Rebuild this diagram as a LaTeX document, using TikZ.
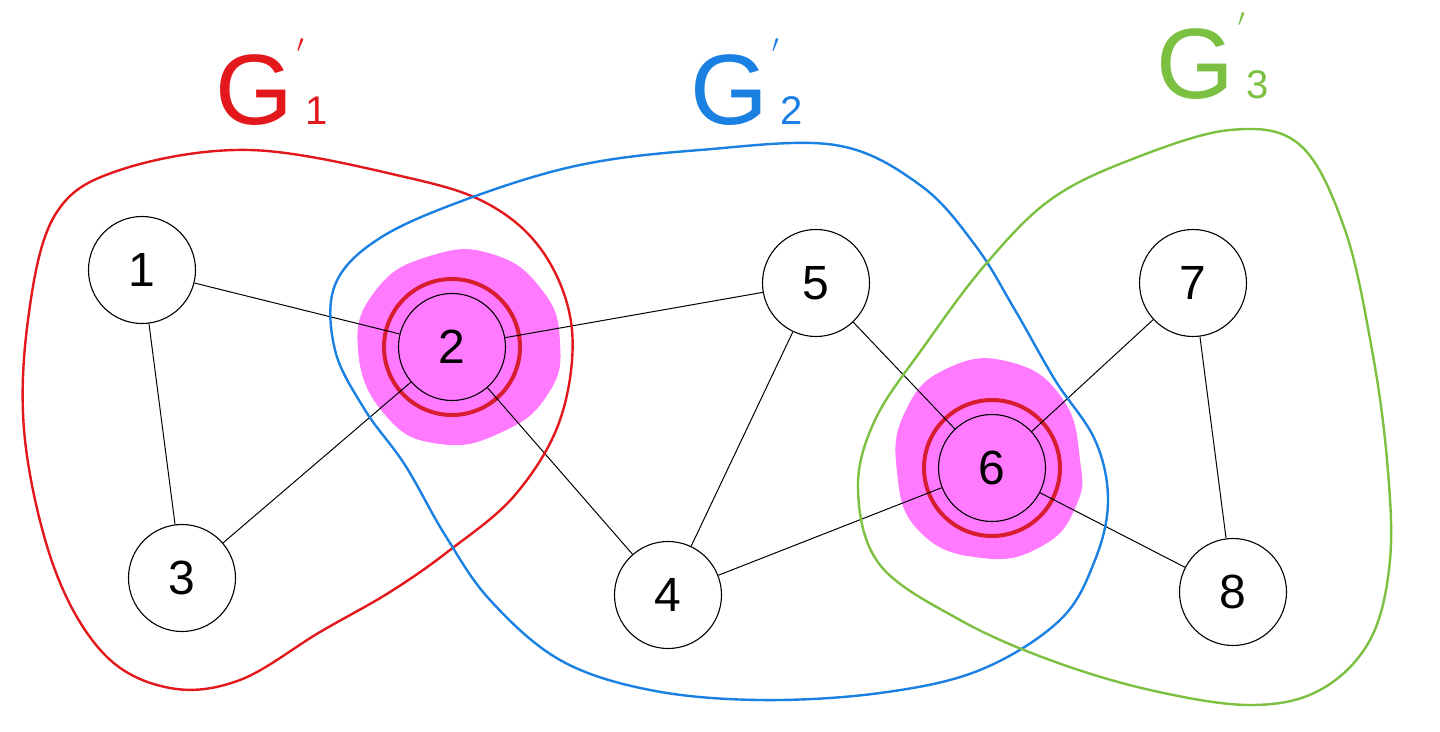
\documentclass[tikz,border=0pt]{standalone}
\usepackage{fontspec}
\setmainfont{Liberation Sans}
\usepackage{tikz}
\usetikzlibrary{arrows.meta}
\definecolor{gred}{RGB}{226,24,28}
\definecolor{gblue}{RGB}{26,128,226}
\definecolor{ggreen}{RGB}{124,192,66}
\definecolor{hpink}{RGB}{255,122,255}
\definecolor{hring}{RGB}{214,30,48}
\newcommand{\gname}[1]{G\kern4pt\raisebox{72pt}{\fontsize{30}{30}\selectfont$\prime$}\kern2pt{\fontsize{40}{40}\selectfont #1}}

\begin{document}
\begin{tikzpicture}[x=1pt,y=-1pt,
    vert/.style={draw=black, circle, line width=1.1pt, fill=white, minimum size=107pt, inner sep=0pt, font=\fontsize{48}{48}\selectfont},
    cut/.style={vert, fill=none},
    ring/.style={draw=hring, line width=4pt},
    glabel/.style={anchor=base west, inner sep=0pt, font=\fontsize{100}{100}\selectfont}]
    \useasboundingbox (0,0) rectangle (1440,731);
    % highlighted cut vertices
    \fill[hpink] plot[smooth cycle, tension=0.8] coordinates {(560,342) (542,290) (492,254) (430,256) (376,290) (358,350) (386,416) (440,444) (502,432) (548,394)};
    \fill[hpink] plot[smooth cycle, tension=0.8] coordinates {(1080,460) (1062,398) (1010,362) (948,368) (906,410) (897,472) (920,532) (982,558) (1042,546) (1076,506)};
    % vertices
    \node[vert] (n1) at (142,270) {1};
    \node[cut] (n2) at (452,347) {2};
    \node[vert] (n3) at (182,578) {3};
    \node[vert] (n4) at (668,595) {4};
    \node[vert] (n5) at (816,283) {5};
    \node[cut] (n6) at (992,468) {6};
    \node[vert] (n7) at (1193,283) {7};
    \node[vert] (n8) at (1233,592) {8};
    \draw[ring] (n2) circle (68pt);
    \draw[ring] (n6) circle (68pt);
    % edges
    \path [line width=1pt] (n1) edge (n2);
    \path [line width=1pt] (n1) edge (n3);
    \path [line width=1pt] (n2) edge (n3);
    \path [line width=1pt] (n2) edge (n5);
    \path [line width=1pt] (n2) edge (n4);
    \path [line width=1pt] (n5) edge (n4);
    \path [line width=1pt] (n5) edge (n6);
    \path [line width=1pt] (n4) edge (n6);
    \path [line width=1pt] (n7) edge (n6);
    \path [line width=1pt] (n6) edge (n8);
    \path [line width=1pt] (n7) edge (n8);
    % components
    \draw[gred, line width=2.4pt] plot[smooth cycle, tension=0.6] coordinates {(120,170) (250,150) (405,177) (490,205) (545,255) (572,330) (560,420) (515,495) (450,550) (390,592) (320,632) (240,680) (170,688) (105,655) (55,570) (25,440) (28,320) (55,215)};
    \draw[gblue, line width=2.4pt] plot[smooth cycle, tension=0.6] coordinates {(470,198) (580,165) (700,150) (835,145) (920,185) (975,245) (1015,310) (1055,380) (1095,440) (1108,500) (1095,560) (1060,620) (980,670) (880,693) (760,700) (650,690) (560,660) (490,600) (445,535) (405,465) (365,410) (335,350) (335,285) (380,238)};
    \draw[ggreen, line width=2.4pt] plot[smooth cycle, tension=0.6] coordinates {(1130,160) (1230,130) (1300,145) (1345,230) (1372,350) (1387,460) (1390,560) (1370,640) (1320,690) (1250,705) (1150,690) (1050,660) (960,620) (880,565) (858,490) (875,420) (925,345) (985,265) (1050,200)};
    % labels
    \node[glabel, text=gred] (l1) at (215,124) {\gname{1}};
    \node[glabel, text=gblue] (l2) at (690,124) {\gname{2}};
    \node[glabel, text=ggreen] (l3) at (1156,98) {\gname{3}};
\end{tikzpicture}
\end{document}
